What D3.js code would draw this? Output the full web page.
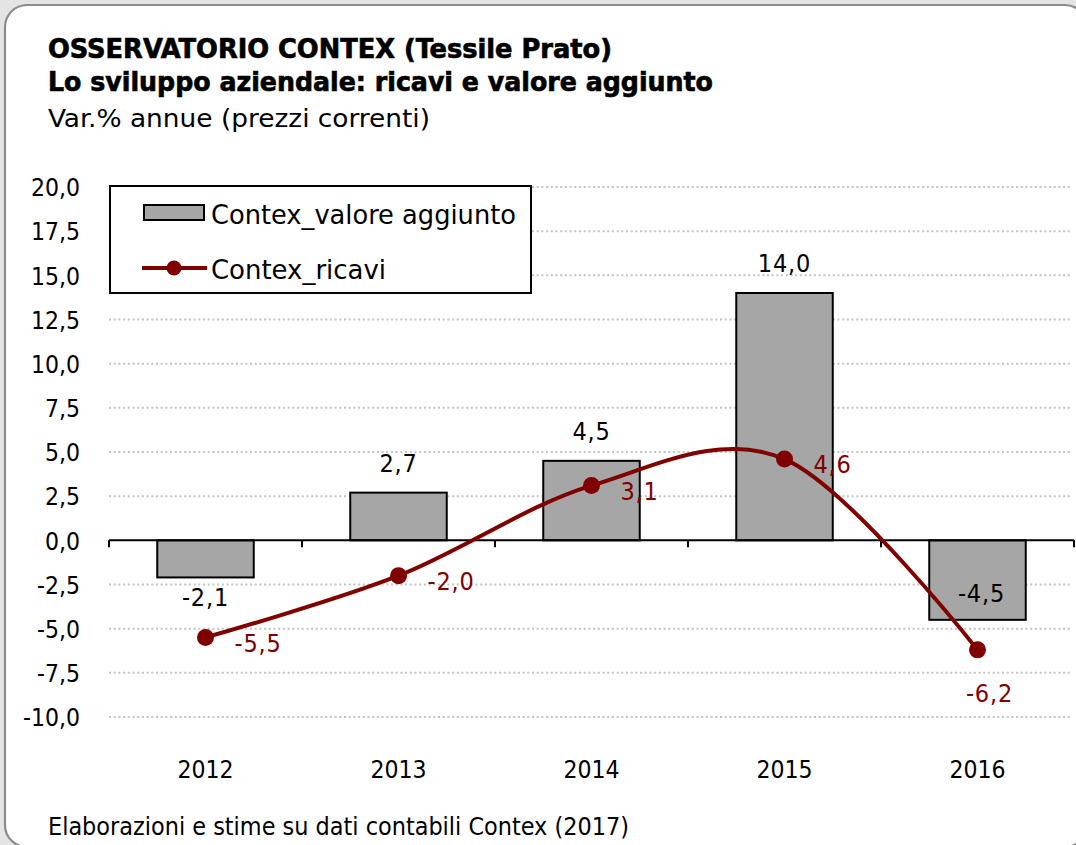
<!DOCTYPE html>
<html>
<head>
<meta charset="utf-8">
<script src="https://cdn.jsdelivr.net/npm/d3@7"></script>
<style>
  html, body { margin: 0; padding: 0; background: #e4e4e4; }
  svg { display: block; }
  text { font-family: "DejaVu Sans Condensed", "DejaVu Sans", sans-serif; }
</style>
</head>
<body>
<svg id="chart" width="1076" height="845"></svg>
<script>
// ---- data ----
const categories = ["2012", "2013", "2014", "2015", "2016"];
const valoreAggiunto = [-2.1, 2.7, 4.5, 14.0, -4.5];
const ricavi = [-5.5, -2.0, 3.1, 4.6, -6.2];
const yTicks = [20, 17.5, 15, 12.5, 10, 7.5, 5, 2.5, 0, -2.5, -5, -7.5, -10];
const valoreLabelPos = ["outside", "outside", "outside", "outside", "inside"];
const ricaviLabelPos = ["right", "right", "right", "right", "below"];
const seriesNames = ["Contex_valore aggiunto", "Contex_ricavi"];
const titleLines = ["OSSERVATORIO CONTEX (Tessile Prato)", "Lo sviluppo aziendale: ricavi e valore aggiunto"];
const subtitle = "Var.% annue (prezzi correnti)";
const footer = "Elaborazioni e stime su dati contabili Contex (2017)";

// ---- layout ----
const W = 1076, H = 845;
const plot = { left: 109, right: 1074, top: 187, bottom: 717 };
const barColor = "#a6a6a6";
const lineColor = "#800000";
const fmt = v => d3.format(".1f")(v).replace(".", ",").replace("−", "-");
const FONT = "\"DejaVu Sans Condensed\", \"DejaVu Sans\", sans-serif";

const svg = d3.select("#chart");

// frame
svg.append("rect").attr("x", 0).attr("y", 0).attr("width", W).attr("height", H).attr("fill", "#e4e4e4");
svg.append("rect")
  .attr("x", 5).attr("y", 5).attr("width", 1082).attr("height", 842)
  .attr("rx", 22).attr("ry", 22)
  .attr("fill", "#ffffff").attr("stroke", "#8c8c8c").attr("stroke-width", 2.2);

// titles
function fitText(sel, len) {
  sel.attr("textLength", len).attr("lengthAdjust", "spacingAndGlyphs");
}
svg.append("text").attr("x", 48).attr("y", 58).attr("font-size", 26).attr("font-weight", "bold")
  .attr("fill", "#000").attr("stroke", "#000").attr("stroke-width", 0.6)
  .text(titleLines[0]).call(fitText, 564);
svg.append("text").attr("x", 48).attr("y", 91).attr("font-size", 26).attr("font-weight", "bold")
  .attr("fill", "#000").attr("stroke", "#000").attr("stroke-width", 0.6)
  .text(titleLines[1]).call(fitText, 665);
svg.append("text").attr("x", 48).attr("y", 127).attr("font-size", 25.5)
  .attr("fill", "#000").text(subtitle).call(fitText, 382);
svg.append("text").attr("x", 48).attr("y", 835).attr("font-size", 24.5)
  .attr("fill", "#000").text(footer).call(fitText, 581);

// scales
const x = d3.scaleBand().domain(categories).range([plot.left, plot.right]).padding(0);
const y = d3.scaleLinear().domain([-10, 20]).range([plot.bottom, plot.top]);
const bw = x.bandwidth() * 0.5;
const cx = c => x(c) + x.bandwidth() / 2;

// gridlines
svg.append("g").selectAll("line").data(yTicks.filter(v => v !== 0)).join("line")
  .attr("x1", plot.left).attr("x2", 1072)
  .attr("y1", d => y(d)).attr("y2", d => y(d))
  .attr("stroke", "#c4c4c4").attr("stroke-width", 2).attr("stroke-dasharray", "2,2.7");

// y axis labels via d3 axis
const yAxis = svg.append("g").attr("transform", `translate(${plot.left},0)`)
  .call(d3.axisLeft(y).tickValues(yTicks).tickFormat(fmt).tickSize(0).tickPadding(29));
yAxis.select(".domain").remove();
yAxis.selectAll("text").attr("font-size", 24.5).attr("fill", "#000")
  .attr("font-family", FONT).attr("dy", "0.36em");

// bars
svg.append("g").selectAll("rect").data(categories).join("rect")
  .attr("x", d => cx(d) - bw / 2)
  .attr("width", bw)
  .attr("y", (d, i) => y(Math.max(0, valoreAggiunto[i])))
  .attr("height", (d, i) => Math.abs(y(valoreAggiunto[i]) - y(0)))
  .attr("fill", barColor).attr("stroke", "#000").attr("stroke-width", 2);

// x axis
const xAxis = svg.append("g").attr("transform", `translate(0,${y(0)})`)
  .call(d3.axisBottom(x).tickSize(0).tickFormat(""));
xAxis.select(".domain").attr("stroke", "#000").attr("stroke-width", 2)
  .attr("d", `M${plot.left},0H${plot.right}`);
const bounds = categories.map(c => x(c)).concat([plot.right]);
xAxis.selectAll(".bt").data(bounds).join("line").attr("class", "bt")
  .attr("x1", d => d).attr("x2", d => d).attr("y1", 0).attr("y2", 7)
  .attr("stroke", "#000").attr("stroke-width", 2);

// category labels
svg.append("g").selectAll("text").data(categories).join("text")
  .attr("x", d => cx(d)).attr("y", 778).attr("text-anchor", "middle")
  .attr("font-size", 24.5).attr("fill", "#000").text(d => d);

// bar labels
svg.append("g").selectAll("text").data(categories).join("text")
  .attr("x", (d, i) => cx(d) + (valoreLabelPos[i] === "inside" ? 4 : 0))
  .attr("y", (d, i) => {
    const v = valoreAggiunto[i];
    if (valoreLabelPos[i] === "inside") return y(v) - 18;
    return v >= 0 ? y(v) - 21 : y(v) + 29;
  })
  .attr("text-anchor", "middle").attr("font-size", 25).attr("letter-spacing", 0.8).attr("fill", "#000")
  .text((d, i) => fmt(valoreAggiunto[i]));

// legend
const lg = svg.append("g");
lg.append("rect").attr("x", 110).attr("y", 186).attr("width", 421).attr("height", 107)
  .attr("fill", "#fff").attr("stroke", "#000").attr("stroke-width", 2);
lg.append("rect").attr("x", 144).attr("y", 205).attr("width", 60).attr("height", 15)
  .attr("fill", barColor).attr("stroke", "#000").attr("stroke-width", 2);
lg.append("text").attr("x", 211).attr("y", 224).attr("font-size", 27).attr("fill", "#000")
  .text(seriesNames[0]).call(fitText, 305);
lg.append("line").attr("x1", 142).attr("x2", 207).attr("y1", 268).attr("y2", 268)
  .attr("stroke", lineColor).attr("stroke-width", 4);
lg.append("circle").attr("cx", 174).attr("cy", 268).attr("r", 7.5).attr("fill", lineColor);
lg.append("text").attr("x", 211).attr("y", 279).attr("font-size", 27).attr("fill", "#000")
  .text(seriesNames[1]).call(fitText, 175);

// line
const line = d3.line().x((d, i) => cx(categories[i])).y(d => y(d)).curve(d3.curveCardinal.tension(0));
svg.append("path").datum(ricavi).attr("d", line)
  .attr("fill", "none").attr("stroke", lineColor).attr("stroke-width", 4).attr("stroke-linejoin", "round");
svg.append("g").selectAll("circle").data(ricavi).join("circle")
  .attr("cx", (d, i) => cx(categories[i])).attr("cy", d => y(d)).attr("r", 8.5).attr("fill", lineColor);

// line labels
svg.append("g").selectAll("text").data(ricavi).join("text")
  .attr("x", (d, i) => ricaviLabelPos[i] === "right" ? cx(categories[i]) + 29 : cx(categories[i]) + 12)
  .attr("y", (d, i) => ricaviLabelPos[i] === "right" ? y(d) + 14 : y(d) + 52)
  .attr("text-anchor", (d, i) => ricaviLabelPos[i] === "right" ? "start" : "middle")
  .attr("font-size", 25).attr("letter-spacing", 0.8).attr("fill", lineColor)
  .text(d => fmt(d));
</script>
</body>
</html>
